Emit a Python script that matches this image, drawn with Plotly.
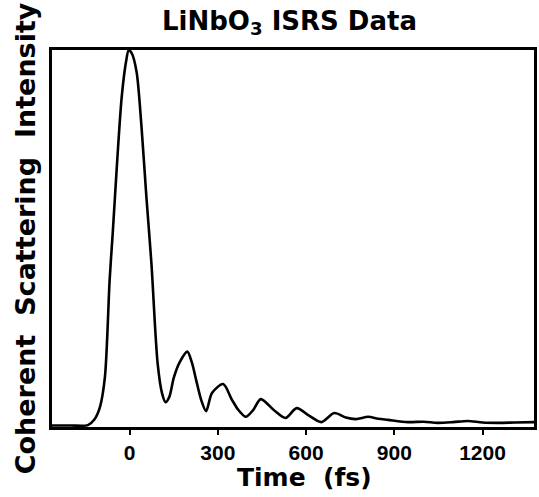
import plotly.graph_objects as go

# Time (fs) and normalized coherent scattering intensity
time_fs = [-264, -200, -142, -120, -101, -84, -68, -57, -42, -27, -12, -3, 8, 24, 40, 57, 74, 95,
           110, 122, 135, 150, 169, 196, 212, 226, 244, 260, 280, 318, 348, 370, 395, 420, 446,
           490, 530, 568, 610, 652, 696, 735, 770, 811, 845, 878, 946, 1000, 1047, 1100,
           1149, 1200, 1250, 1310, 1375]
intensity = [0.004, 0.004, 0.005, 0.02, 0.053, 0.133, 0.39, 0.52, 0.71, 0.875, 0.97, 1.0, 0.99,
             0.94, 0.80, 0.61, 0.435, 0.17, 0.09, 0.066, 0.08, 0.13, 0.17, 0.20, 0.17, 0.125,
             0.07, 0.042, 0.09, 0.114, 0.072, 0.045, 0.027, 0.045, 0.074, 0.045, 0.024, 0.05,
             0.03, 0.013, 0.037, 0.025, 0.021, 0.027, 0.022, 0.019, 0.013, 0.014, 0.011, 0.013,
             0.016, 0.012, 0.011, 0.012, 0.013]

x_ticks = [0, 300, 600, 900, 1200]
x_tick_labels = ["0", "300", "600", "900", "1200"]

title_text = "LiNbO<sub>3</sub> ISRS Data"
x_title = "Time\u00a0\u00a0(fs)"
y_title = "Coherent\u00a0\u00a0Scattering\u00a0\u00a0Intensity"

wide_font = "DejaVu Sans, Verdana, sans-serif"
tick_font = "Liberation Sans, Arial, sans-serif"

fig = go.Figure()
fig.add_trace(go.Scatter(
    x=time_fs, y=intensity, mode="lines",
    line=dict(color="black", width=2.6, shape="spline", smoothing=0.8),
    showlegend=False, hoverinfo="skip",
))

fig.update_layout(
    width=539, height=497,
    margin=dict(l=52, r=2, t=50, b=70),
    paper_bgcolor="white", plot_bgcolor="white",
    font=dict(family=tick_font, color="black"),
)
fig.update_xaxes(
    range=[-264, 1375],
    tickvals=x_ticks, ticktext=x_tick_labels,
    ticks="outside", ticklen=5, tickwidth=2, tickcolor="black",
    tickfont=dict(size=21, family=tick_font, color="black", weight="bold"),
    showline=True, linewidth=2.5, linecolor="black", mirror=True,
    showgrid=False, zeroline=False,
)
fig.update_yaxes(
    range=[0, 1.0],
    showticklabels=False, ticks="",
    showline=True, linewidth=2.5, linecolor="black", mirror=True,
    showgrid=False, zeroline=False,
)

fig.add_annotation(
    text="<b>" + title_text + "</b>", xref="paper", yref="paper",
    x=0.493, y=1.074, xanchor="center", yanchor="middle", showarrow=False,
    font=dict(size=26, family=wide_font, color="black"),
)
fig.add_annotation(
    text="<b>" + x_title + "</b>", xref="paper", yref="paper",
    x=0.524, y=-0.135, xanchor="center", yanchor="middle", showarrow=False,
    font=dict(size=25, family=wide_font, color="black"),
)
fig.add_annotation(
    text="<b>" + y_title + "</b>", xref="paper", yref="paper",
    x=-0.0557, y=0.501, xanchor="center", yanchor="middle", showarrow=False,
    textangle=-90,
    font=dict(size=27, family=wide_font, color="black"),
)

fig.write_html("out.html", config={"displayModeBar": False},
               post_script="document.body.style.margin='0px';")
